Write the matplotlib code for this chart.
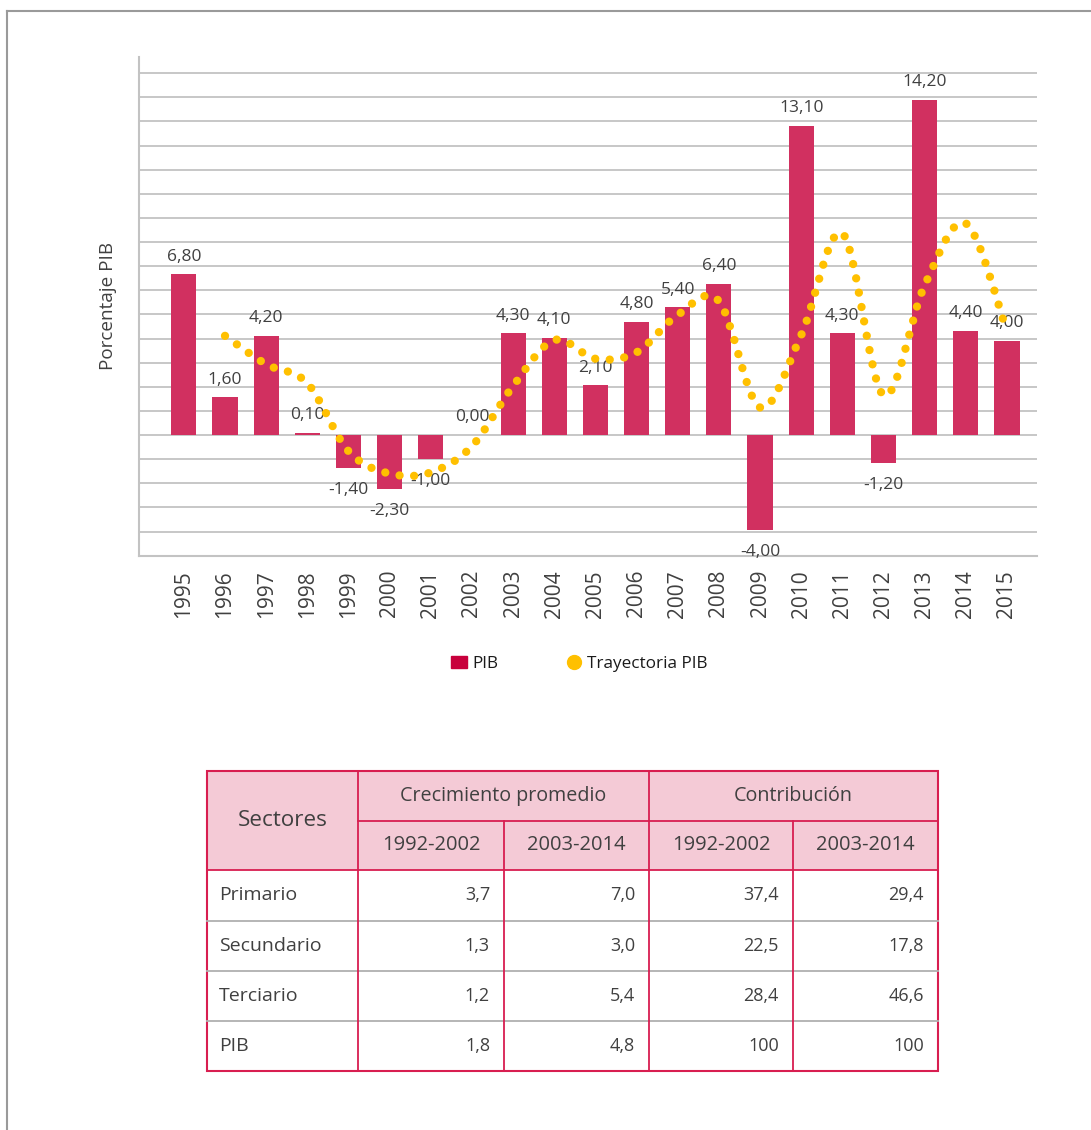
import matplotlib
matplotlib.use('Agg')
import matplotlib.pyplot as plt
import numpy as np
from matplotlib.path import Path
from matplotlib.patches import PathPatch, Rectangle, Patch
from matplotlib.lines import Line2D

plt.rcParams['font.family'] = ['Open Sans', 'DejaVu Sans']

# --- data ---
years = [str(y) for y in range(1995, 2016)]
pib = [6.8, 1.6, 4.2, 0.1, -1.4, -2.3, -1.0, 0.0, 4.3, 4.1, 2.1,
       4.8, 5.4, 6.4, -4.0, 13.1, 4.3, -1.2, 14.2, 4.4, 4.0]
tray_years = list(range(1996, 2016))
tray = [4.20, 3.00, 2.20, -0.68, -1.63, -1.58, -0.47, 2.08, 4.02, 3.23,
        3.50, 5.09, 5.67, 1.17, 4.23, 8.54, 1.69, 6.34, 8.96, 4.40]

tab_sectores = ['Primario', 'Secundario', 'Terciario', 'PIB']
crec_92_02 = ['3,7', '1,3', '1,2', '1,8']
crec_03_14 = ['7,0', '3,0', '5,4', '4,8']
contr_92_02 = ['37,4', '22,5', '28,4', '100']
contr_03_14 = ['29,4', '17,8', '46,6', '100']

BAR = '#D13060'
YEL = '#FFC000'
TXT = '#404040'
GRID = '#C3C3C3'
W, H = 1091, 1130

fig = plt.figure(figsize=(W / 100, H / 100), dpi=100)

# background layer in pixel coordinates (frame + table)
bg = fig.add_axes([0, 0, 1, 1])
bg.set_xlim(0, W)
bg.set_ylim(H, 0)
bg.axis('off')
bg.plot([7, W], [11, 11], color='#9A9A9A', lw=1.5)
bg.plot([7, 7], [11, H], color='#9A9A9A', lw=1.5)

# --- chart ---
ax = fig.add_axes([139 / W, 1 - 556 / H, (1037 - 139) / W, (556 - 57) / H])
x = np.arange(len(years))
ax.bar(x, pib, width=0.61, color=BAR, zorder=2)

for xi, v in zip(x, pib):
    s = f'{v:.2f}'.replace('.', ',')
    if v >= 0:
        ax.annotate(s, (xi, v), xytext=(0, 7), textcoords='offset points',
                    ha='center', va='bottom', fontsize=12.5, color=TXT)
    else:
        ax.annotate(s, (xi, v), xytext=(0, -10), textcoords='offset points',
                    ha='center', va='top', fontsize=12.5, color=TXT)

# smoothed (bezier) dotted trajectory, like a spreadsheet "smoothed line"
tx = np.array(tray_years, dtype=float) - 1995
ty = np.array(tray)
verts = [(tx[0], ty[0])]
codes = [Path.MOVETO]
n = len(tx)
for i in range(n - 1):
    p0 = np.array([tx[max(i - 1, 0)], ty[max(i - 1, 0)]])
    p1 = np.array([tx[i], ty[i]])
    p2 = np.array([tx[i + 1], ty[i + 1]])
    p3 = np.array([tx[min(i + 2, n - 1)], ty[min(i + 2, n - 1)]])
    c1 = p1 + (p2 - p0) / 6
    c2 = p2 - (p3 - p1) / 6
    verts += [tuple(c1), tuple(c2), tuple(p2)]
    codes += [Path.CURVE4] * 3
curve = PathPatch(Path(verts, codes), fill=False, edgecolor=YEL, lw=6.0,
                  linestyle=(0, (0.001, 1.75)), capstyle='round', zorder=3)
ax.add_patch(curve)

step = 1.021  # gridlines in the reference sit slightly more than one unit apart
ax.set_yticks(np.arange(-4, 16) * step)
ax.set_yticklabels([])
ax.set_ylim(-5.116, 16.0)
ax.set_xlim(-1.09, 20.73)
ax.grid(axis='y', color=GRID, lw=1.3, zorder=0)
ax.set_axisbelow(True)
ax.set_xticks(x)
ax.set_xticklabels(years, rotation=90, fontsize=15, color=TXT)
ax.tick_params(axis='both', length=0)
ax.tick_params(axis='x', pad=10)
for s in ['top', 'right']:
    ax.spines[s].set_visible(False)
for s in ['left', 'bottom']:
    ax.spines[s].set_color(GRID)
    ax.spines[s].set_linewidth(1.5)
ax.text(-0.0345, 0.5, 'Porcentaje PIB', transform=ax.transAxes, rotation=90,
        ha='center', va='center', fontsize=13.6, color=TXT)

handles = [Patch(color='#C8003C', label='PIB'),
           Line2D([], [], marker='o', ls='none', color=YEL, markersize=10,
                  label='Trayectoria PIB')]
fig.legend(handles=handles, loc='center', bbox_to_anchor=(0.531, 1 - 664 / H),
           ncol=2, frameon=False, fontsize=12.3, handlelength=0.9,
           handletextpad=0.3, columnspacing=4.0, labelcolor='#1A1A1A')

# --- table ---
cols = [207, 358, 504, 649, 793, 938]
rows = [771, 821, 870, 921, 971, 1021, 1071]
RED = '#D81E50'
PINK = '#F4CAD6'
bg.add_patch(Rectangle((cols[0], rows[0]), cols[-1] - cols[0], rows[2] - rows[0],
                       facecolor=PINK, edgecolor='none'))
for r in rows[3:-1]:
    bg.plot([cols[0], cols[-1]], [r, r], color='#B0B0B0', lw=1.3)
for c in cols[1:-1]:
    top = rows[1] if c in (504, 793) else rows[0]
    bg.plot([c, c], [top, rows[-1]], color=RED, lw=1.3)
bg.plot([cols[1], cols[-1]], [rows[1], rows[1]], color=RED, lw=1.3)
bg.plot([cols[0], cols[-1]], [rows[2], rows[2]], color=RED, lw=1.3)
bg.add_patch(Rectangle((cols[0], rows[0]), cols[-1] - cols[0], rows[-1] - rows[0],
                       facecolor='none', edgecolor=RED, lw=1.5))

bg.text((cols[0] + cols[1]) / 2, (rows[0] + rows[2]) / 2, 'Sectores',
        ha='center', va='center', fontsize=16.2, color=TXT)
bg.text((cols[1] + cols[3]) / 2, (rows[0] + rows[1]) / 2, 'Crecimiento promedio',
        ha='center', va='center', fontsize=14.2, color=TXT)
bg.text((cols[3] + cols[5]) / 2, (rows[0] + rows[1]) / 2, 'Contribución',
        ha='center', va='center', fontsize=14.2, color=TXT)
for j, lab in enumerate(['1992-2002', '2003-2014', '1992-2002', '2003-2014']):
    bg.text((cols[j + 1] + cols[j + 2]) / 2, (rows[1] + rows[2]) / 2, lab,
            ha='center', va='center', fontsize=14.5, color=TXT)

for i, name in enumerate(tab_sectores):
    yc = (rows[i + 2] + rows[i + 3]) / 2
    bg.text(cols[0] + 12, yc, name, ha='left', va='center', fontsize=14, color=TXT)
    for j, col in enumerate([crec_92_02, crec_03_14, contr_92_02, contr_03_14]):
        bg.text(cols[j + 2] - 14, yc, col[i], ha='right', va='center',
                fontsize=13, color=TXT)

fig.savefig('out.png', dpi=100)
